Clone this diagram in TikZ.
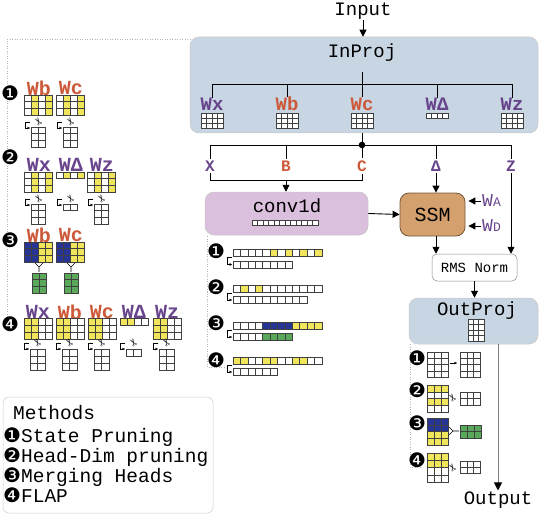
\documentclass[tikz,border=0pt]{standalone}
\usepackage{fontspec}
\setmainfont{Liberation Mono}
\newfontfamily\dingfont{DejaVu Sans}
\usetikzlibrary{positioning,arrows.meta}

\definecolor{projblue}{RGB}{200,213,227}
\definecolor{convpink}{RGB}{219,192,221}
\definecolor{ssmtan}{RGB}{211,160,110}
\definecolor{ssmedge}{RGB}{120,88,55}
\definecolor{wpurple}{RGB}{104,68,140}
\definecolor{worange}{RGB}{204,90,58}
\definecolor{cy}{RGB}{241,229,92}
\definecolor{cb}{RGB}{38,52,150}
\definecolor{cg}{RGB}{90,168,90}
\colorlet{cw}{white}

\newcommand{\fsz}[1]{\fontsize{#1}{#1}\selectfont}

% grid, one colour per column
\newcommand{\colgrid}[6]{%
  \edef\gridcols{#6}%
  \foreach \cc [count=\ci from 0] in \gridcols
    \foreach \ri in {1,...,#3}
      \draw[cell, fill=\cc] ({#1+\ci*#4},{#2+(\ri-1)*#5}) rectangle ++(#4,#5);}
% grid, one colour per row
\newcommand{\rowgrid}[6]{%
  \edef\gridrows{#6}%
  \foreach \cc [count=\ri from 0] in \gridrows
    \foreach \ci in {1,...,#3}
      \draw[cell, fill=\cc] ({#1+(\ci-1)*#4},{#2+\ri*#5}) rectangle ++(#4,#5);}
% small bent arrow to the pruned copy
\newcommand{\bent}[3]{\draw[bentarr] (#1+5,#2) -- (#1,#2) -- (#1,#2+#3) -- (#1+5,#2+#3);}
\newcommand{\snip}[2]{\node[snipper] at (#1,#2) {✂};}

\tikzset{
  box/.style={rounded corners=9pt, draw=black!22, line width=0.5pt, inner sep=0pt},
  cell/.style={draw=black!75, line width=0.35pt},
  tree/.style={line width=0.9pt},
  arr/.style={line width=0.9pt, -{Triangle[length=7pt,width=7pt]}},
  outarr/.style={line width=1pt, draw=black!50, -{Triangle[length=8pt,width=8pt,color=black]}},
  bentarr/.style={line width=0.35pt, -{Triangle[length=2.5pt,width=2.5pt]}},
  dotline/.style={black!30, dotted, line width=0.5pt},
  wlbl/.style={font=\fsz{19}\bfseries, inner sep=0pt},
  llbl/.style={font=\fsz{20}\bfseries, inner sep=0pt},
  sublbl/.style={font=\fsz{16}\bfseries, inner sep=2pt},
  numdot/.style={font=\dingfont\fsz{20}, inner sep=0pt},
  snipper/.style={font=\dingfont\fsz{10}, inner sep=0pt, rotate=120},
  txt/.style={font=\fsz{19}, inner sep=1pt},
}

\begin{document}
\begin{tikzpicture}[x=1pt, y=-1pt]
\useasboundingbox (0,0) rectangle (546,516);

% main blocks
\node[txt] (input) at (363,11) {Input};
\node[box, fill=projblue, minimum width=348pt, minimum height=96pt] (inproj) at (364,85) {};
\node[txt] (inprojlbl) at (362,53) {InProj};
\node[box, fill=convpink, minimum width=163pt, minimum height=43pt] (conv) at (286.5,213.5) {};
\node[txt] (convlbl) at (287,206) {conv1d};
\node[box, fill=ssmtan, draw=ssmedge, line width=0.8pt, minimum width=65pt, minimum height=43pt, font=\fsz{20}] (ssm) at (432.5,214.5) {SSM};
\node[box, rounded corners=5pt, fill=white, draw=black!45, minimum width=85pt, minimum height=27pt, font=\fsz{14}] (rms) at (474.5,267.5) {RMS Norm};
\node[box, fill=projblue, minimum width=129pt, minimum height=46pt] (outproj) at (473.5,321) {};
\node[txt] (outprojlbl) at (477,311) {OutProj};
\node[txt] (output) at (498,500) {Output};

\draw[arr] (input.south) -- (input.south |- inproj.north);

% InProj weights
\coordinate (stem) at (362,72);
\coordinate (split) at (362,84);
\draw[tree] (stem) -- (split);
\foreach \nm/\x/\lab/\col/\nr in {wx/212/Wx/wpurple/3, wb/287/Wb/worange/3, wc/362/Wc/worange/3, wd/437/WΔ/wpurple/1, wz/512/Wz/wpurple/3} {
  \node[wlbl, text=\col] (\nm) at (\x,104) {\lab};
  \draw[tree] (\nm.north |- split) -- (\nm.north);
  \colgrid{\x-11}{113}{\nr}{5.5}{5}{cw,cw,cw,cw}
}
\draw[tree] (wx.north |- split) -- (wz.north |- split);

% split into x, B, C, delta, z
\coordinate (dot) at (362,145);
\draw[tree] (wc |- inproj.south) -- (dot);
\fill (dot) circle (3.3);
\foreach \nm/\x/\lab/\col in {lx/210/X/wpurple, lb/286/B/worange, lc/362/C/worange, ld/436/Δ/wpurple, lz/511/Z/wpurple} {
  \node[sublbl, text=\col] (\nm) at (\x,166) {\lab};
  \draw[tree] (\nm.north |- dot) -- (\nm.north);
}
\draw[tree] (lx.north |- dot) -- (lz.north |- dot);

\coordinate (xbc) at (286,180);
\draw[line width=0.6pt] (lx.south) -- (lx.south |- xbc) -- (lc.south |- xbc) -- (lc.south);
\draw[arr] (xbc) -- (xbc |- conv.north);

% SSM inputs and outputs
\draw[arr] (conv.east) -- (ssm.west);
\draw[arr] (ld.south) -- (ld.south |- ssm.north);
\node[font=\fsz{18}, text=wpurple, anchor=west, inner sep=0pt] (wa) at (482,201) {W{\fsz{13}A}};
\node[font=\fsz{18}, text=wpurple, anchor=west, inner sep=0pt] (wdd) at (482,226) {W{\fsz{13}D}};
\draw[arr, shorten >=3pt, shorten <=1pt] (wa.west) -- (wa.west -| ssm.east);
\draw[arr, shorten >=3pt, shorten <=1pt] (wdd.west) -- (wdd.west -| ssm.east);
\draw[arr] (ld |- ssm.south) -- (ld |- rms.north);
\draw[arr] (lz.south) -- (lz.south |- rms.north);
\draw[arr] (rms.south) -- (rms.south |- outproj.north);
\draw[outarr] (outproj.south -| output) -- (output.north);

% small weights in the blocks
\colgrid{252}{220}{1}{5.5}{5}{cw,cw,cw,cw,cw,cw,cw,cw,cw,cw,cw,cw}
\colgrid{468}{319}{4}{5.3}{5.5}{cw,cw,cw}

% left panel: pruning of the InProj weights
\draw[dotline] (190,39) -- (7,39) -- (7,326) -- (16,326);
\node[numdot] (p1) at (10,93) {❶};
\foreach \x/\lab in {39/Wb, 71/Wc} {
  \node[llbl, text=worange] at (\x,88) {\lab};
  \colgrid{\x-15}{95}{3}{7}{6.67}{cw,cy,cw,cy}
  \snip{\x}{121}
  \bent{\x-14}{122}{6}
  \colgrid{\x-8}{127}{3}{7.3}{6.67}{cw,cw}
}
\node[numdot] (p2) at (10,157) {❷};
\foreach \x/\lab/\nr in {39/Wx/3, 71/WΔ/1, 102/Wz/3} {
  \node[llbl, text=wpurple] at (\x,165) {\lab};
  \colgrid{\x-15}{172}{\nr}{7}{6.67}{cw,cy,cw,cy}
  \snip{\x}{198}
  \bent{\x-14}{199}{6}
  \colgrid{\x-8}{204}{\nr}{7.3}{6.67}{cw,cw}
}
\node[numdot] (p3) at (10,240) {❸};
\foreach \x/\lab in {39/Wb, 71/Wc} {
  \node[llbl, text=worange] at (\x,235) {\lab};
  \colgrid{\x-15}{242}{3}{7}{6.67}{cb,cb,cy,cy}
  \draw[line width=0.6pt] (\x-4,263) -- (\x,267) -- (\x+4,263) (\x,267) -- (\x,272);
  \colgrid{\x-7}{273}{3}{7}{6.67}{cg,cg}
}
\node[numdot] (p4) at (10,324) {❹};
\foreach \x/\lab/\col/\nr in {38/Wx/wpurple/3, 70/Wb/worange/3, 102/Wc/worange/3, 134/WΔ/wpurple/1, 167/Wz/wpurple/3} {
  \node[llbl, text=\col] at (\x,312) {\lab};
  \colgrid{\x-14}{318}{\nr}{7}{7}{cy,cy,cw,cw}
  \snip{\x}{342}
  \bent{\x-14}{343}{6}
  \colgrid{\x-8}{349}{\nr}{7.5}{7}{cw,cw}
}

% conv1d kernels
\draw[dotline] (207,236) -- (207,367) -- (226,367);
\foreach \y in {256,292,329} \draw[dotline] (207,\y) -- (210,\y);
\node[numdot] (c1) at (216,251) {❶};
\colgrid{233}{249}{1}{7.4}{7}{cw,cw,cw,cw,cw,cy,cw,cy,cw,cy,cw,cy}
\bent{227}{257}{7.5}
\colgrid{233}{261}{1}{7.4}{7}{cw,cw,cw,cw,cw,cw,cw,cw}
\node[numdot] (c2) at (216,287) {❷};
\colgrid{233}{285}{1}{7.4}{7}{cw,cy,cw,cy,cw,cw,cw,cw,cw,cw,cw,cw}
\bent{227}{293}{7}
\colgrid{233}{296}{1}{7.4}{7}{cw,cw,cw,cw,cw,cw,cw,cw,cw,cw}
\node[numdot] (c3) at (216,323) {❸};
\colgrid{233}{322}{1}{7.4}{7}{cw,cw,cw,cw,cb,cb,cb,cb,cy,cy,cy,cy}
\bent{227}{330}{7}
\colgrid{233}{333}{1}{7.4}{7}{cw,cw,cw,cw,cg,cg,cg,cg}
\node[numdot] (c4) at (216,360) {❹};
\colgrid{233}{357}{1}{7.4}{7}{cy,cy,cw,cw,cy,cy,cw,cw,cy,cy,cw,cw}
\bent{227}{365}{7}
\colgrid{233}{368}{1}{7.4}{7}{cw,cw,cw,cw,cw,cw}

% OutProj weights
\draw[dotline] (410,344) -- (410,467) -- (420,467);
\node[numdot] (o1) at (417,358) {❶};
\colgrid{427}{352}{4}{7}{6.25}{cw,cw,cw}
\draw[bentarr] (450,363) -- (457,363);
\colgrid{460}{352}{4}{6.7}{6.25}{cw,cw,cw}
\node[numdot] (o2) at (417,390) {❷};
\rowgrid{427}{385}{3}{7}{6.75}{cy,cw,cy,cw}
\snip{453}{397}
\rowgrid{460}{392}{3}{6.7}{6.5}{cw,cw}
\node[numdot] (o3) at (417,423) {❸};
\rowgrid{427}{418}{3}{7}{6.75}{cb,cb,cy,cy}
\draw[line width=0.6pt] (449,427) -- (453,431) -- (449,435) (453,431) -- (459,431);
\rowgrid{460}{425}{3}{7}{6.5}{cg,cg}
\node[numdot] (o4) at (417,460) {❹};
\rowgrid{427}{453}{3}{7}{7.25}{cy,cy,cw,cw}
\snip{453}{467}
\rowgrid{460}{461}{3}{6.7}{6}{cw,cw}

% legend
\node[box, rounded corners=6pt, draw=black!20, minimum width=210pt, minimum height=116pt] (methods) at (108,455) {};
\node[anchor=west, font=\fsz{19.5}, inner sep=0pt] (methodslbl) at (13,413) {Methods};
\node[anchor=north west, align=left, inner sep=0pt, font=\fontsize{19.5}{16.5}\selectfont] (methodlist) at (3,428)
  {{\dingfont\fsz{20}❶}State Pruning\\ {\dingfont\fsz{20}❷}Head-Dim pruning\\ {\dingfont\fsz{20}❸}Merging Heads\\ {\dingfont\fsz{20}❹}FLAP};
\end{tikzpicture}
\end{document}
